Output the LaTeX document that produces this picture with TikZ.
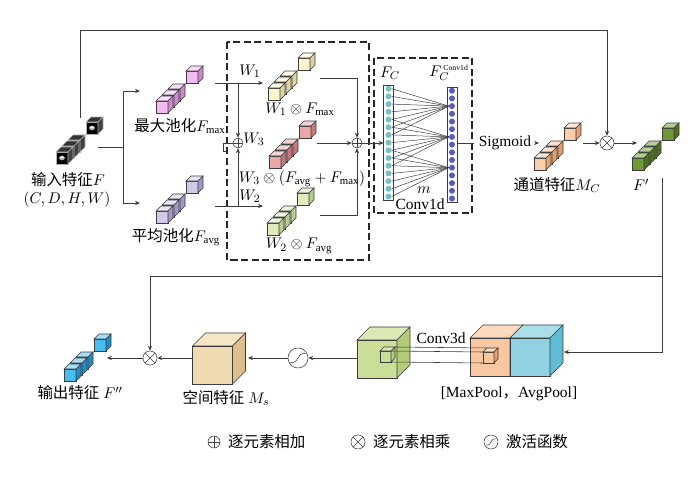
\documentclass[tikz,border=0pt]{standalone}
\usepackage{fontspec}
\setmainfont{Liberation Serif}
\newfontfamily\cjk{Noto Sans CJK SC}
\usepackage{amsmath}
\usetikzlibrary{arrows.meta,positioning}

\definecolor{wire}{RGB}{60,60,60}
\definecolor{maxfront}{RGB}{242,186,242}
\definecolor{maxside}{RGB}{205,135,205}
\definecolor{avgfront}{RGB}{210,200,232}
\definecolor{avgside}{RGB}{165,150,200}
\definecolor{wafront}{RGB}{252,246,205}
\definecolor{waside}{RGB}{222,212,160}
\definecolor{wcfront}{RGB}{232,168,168}
\definecolor{wcside}{RGB}{198,120,120}
\definecolor{wbfront}{RGB}{222,236,190}
\definecolor{wbside}{RGB}{182,204,145}
\definecolor{mcfront}{RGB}{250,206,168}
\definecolor{mcside}{RGB}{226,160,112}
\definecolor{fpfront}{RGB}{112,152,52}
\definecolor{fpside}{RGB}{78,112,30}
\definecolor{outfront}{RGB}{72,190,240}
\definecolor{outside}{RGB}{30,140,200}
\definecolor{msfront}{RGB}{240,218,178}
\definecolor{mstop}{RGB}{246,230,200}
\definecolor{msside}{RGB}{222,190,140}
\definecolor{safront}{RGB}{202,222,152}
\definecolor{satop}{RGB}{218,234,180}
\definecolor{saside}{RGB}{178,204,120}
\definecolor{mpfront}{RGB}{250,200,160}
\definecolor{mptop}{RGB}{252,218,190}
\definecolor{apfront}{RGB}{145,210,226}
\definecolor{aptop}{RGB}{170,222,235}
\definecolor{apside}{RGB}{95,188,212}
\definecolor{dotin}{RGB}{118,190,200}
\definecolor{dotout}{RGB}{88,88,200}

\newcommand*\cubesz{12}
\newcommand*\cubedp{5}
\newcommand*\bigdp{13}

% small cube: x, y (front bottom left), front, top, side
\newcommand\minicube[5]{%
  \draw[cubeline,fill=#3] (#1,#2) rectangle ++(\cubesz,-\cubesz);
  \draw[cubeline,fill=#4] (#1,{#2-\cubesz}) -- ++(\cubedp,-\cubedp) -- ++(\cubesz,0) -- ++(-\cubedp,\cubedp) -- cycle;
  \draw[cubeline,fill=#5] ({#1+\cubesz},#2) -- ++(\cubedp,-\cubedp) -- ++(0,-\cubesz) -- ++(-\cubedp,\cubedp) -- cycle;
}
% top and side faces of a big cube node: node, top, side
\newcommand\cubefaces[3]{%
  \draw[cubeline,fill=#2] (#1.north west) -- ++(\bigdp,-\bigdp) -- ([shift={(\bigdp,-\bigdp)}]#1.north east) -- (#1.north east) -- cycle;
  \draw[cubeline,fill=#3] (#1.north east) -- ++(\bigdp,-\bigdp) -- ([shift={(\bigdp,-\bigdp)}]#1.south east) -- (#1.south east) -- cycle;
}
\newcommand\sigcurve[1]{%
  \draw ([shift={(-0.75*#1,0.45*#1)}]path picture bounding box.center)
    .. controls ([shift={(0.25*#1,0.55*#1)}]path picture bounding box.center)
    and ([shift={(-0.25*#1,-0.55*#1)}]path picture bounding box.center)
    .. ([shift={(0.75*#1,-0.45*#1)}]path picture bounding box.center);
}

\tikzset{
    cubeline/.style = {draw=wire, line width=0.4pt},
    arr/.style      = {draw=wire, line width=0.5pt, -{Stealth[length=3.5pt,width=3pt]}},
    wireline/.style = {draw=wire, line width=0.5pt},
    dashbox/.style  = {draw=black!85, line width=1.1pt, dash pattern=on 5pt off 2.5pt},
    oplus/.style    = {draw=wire, circle, inner sep=0pt, minimum size={#1*0.05cm},
                       path picture={\draw (path picture bounding box.north) -- (path picture bounding box.south)
                                           (path picture bounding box.west) -- (path picture bounding box.east);}},
    otimes/.style   = {draw=wire, circle, inner sep=0pt, minimum size={#1*0.05cm},
                       path picture={\draw (path picture bounding box.north west) -- (path picture bounding box.south east)
                                           (path picture bounding box.north east) -- (path picture bounding box.south west);}},
    actcirc/.style  = {draw=wire, circle, inner sep=0pt, minimum size={#1*0.05cm},
                       path picture={\sigcurve{#1}}},
    bigcube/.style  = {draw=wire, line width=0.4pt, fill=#1, inner sep=0pt, outer sep=0pt,
                       minimum width=1cm, minimum height=0.95cm},
    bar/.style      = {draw=wire, fill=white, inner sep=0pt, minimum width=0.24cm, minimum height=2.875cm},
    indot/.style    = {circle, fill=dotin, inner sep=0pt, minimum size=0.15cm},
    outdot/.style   = {circle, fill=dotout, inner sep=0pt, minimum size=0.15cm},
    pics/cuberow/.style args={#1/#2}{code={
        \draw[densely dotted, wire] (22,-22) -- (30,-30);
        \minicube{30}{-30}{#1}{#1!50!white}{#2}
        \foreach \k in {2,1,0}{\minicube{6*\k}{-6*\k}{#1}{#1!50!white}{#2}}
    }},
    pics/scanrow/.style={code={
        \begin{scope}[cubeline/.style={draw=gray!60, line width=0.4pt}]
        \draw[densely dotted, wire] (22,-22) -- (30,-30);
        \foreach \p in {30,12,6,0}{
            \minicube{\p}{-\p}{black}{black!80}{black!75}
            \fill[gray!70] ({\p+6},{-\p-6}) ellipse (3 and 2.4);
            \fill[white] ({\p+6},{-\p-6.5}) ellipse (1.8 and 1.2);
        }
        \end{scope}
    }},
}

\begin{document}
\begin{tikzpicture}[x=0.025cm, y=-0.025cm, font=\fontsize{11}{13}\selectfont]
    \useasboundingbox (0,0) rectangle (700,480);

    % input feature and the two pooled copies
    \pic at (56,164) {scanrow};
    \pic at (156,113) {cuberow=maxfront/maxside};
    \pic at (156,223) {cuberow=avgfront/avgside};
    \node (inlab)  at (68,180)  {{\cjk 输入特征}$F$};
    \node (inshape) at (67,200) {$(C,D,H,W)$};
    \node (maxlab) at (180,126) {{\cjk 最大池化}$F_{\max}$};
    \node (avglab) at (176,237) {{\cjk 平均池化}$F_{\mathrm{avg}}$};

    \coordinate (inout) at (98,147);
    \coordinate (split) at (123,147);
    \coordinate (maxin) at (140,91);
    \coordinate (avgin) at (140,203);
    \draw[wireline] (inout) -- (split);
    \draw[arr] (split) |- (maxin);
    \draw[arr] (split) |- (avgin);

    % weighting block
    \draw[dashbox] (227,42) rectangle (369,260);
    \pic at (268,100) {cuberow=wafront/waside};
    \pic at (269,168) {cuberow=wcfront/wcside};
    \pic at (267,235) {cuberow=wbfront/wbside};
    \node (walab) at (300,109) {$W_1\otimes F_{\max}$};
    \node (wclab) at (302,179) {$W_3\otimes(F_{\mathrm{avg}}+F_{\max})$};
    \node (wblab) at (299,246) {$W_2\otimes F_{\mathrm{avg}}$};
    \node (wa) at (250,71)  {$W_1$};
    \node (wc) at (254,139) {$W_3$};
    \node (wb) at (250,196) {$W_2$};

    \node[oplus=5] (lplus) at (238,143) {};
    \node[oplus=5] (rplus) at (357,143) {};
    \coordinate (maxout) at (215,83);
    \coordinate (waend)  at (263,83);
    \coordinate (avgout) at (215,206);
    \coordinate (wbend)  at (263,206);
    \draw[arr] (maxout) -- (waend);
    \draw[arr] (avgout) -- (wbend);
    \draw[arr] (lplus |- maxout) -- (lplus);
    \draw[arr] (lplus |- avgout) -- (lplus);
    \draw[wireline] (lplus.west) -- ++(-9,0) -- ++(0,8) -- ++(3,0);

    \coordinate (waout) at (320,78);
    \coordinate (wcout) at (317,143);
    \coordinate (wbout) at (320,215);
    \draw[arr] (waout) -| (rplus);
    \draw[arr] (wcout) -- (rplus);
    \draw[arr] (wbout) -| (rplus);

    % Conv1d block
    \draw[dashbox] (374,58) rectangle (472,213);
    \node[bar] (fcbar)  at (388.5,142.5) {};
    \node[bar] (fcobar) at (452,144.5) {};
    \foreach \i in {1,...,15} {
        \node[indot]  (fc\i)  at (388.5,{81+7.7*\i}) {};
        \node[outdot] (fco\i) at (452,{83+7.7*\i}) {};
    }
    \foreach \o/\a/\b in {3/1/7,7/5/11,11/9/15}
        \foreach \j in {\a,...,\b}
            \draw[wire, line width=0.35pt] (fc\j.east) -- (fco\o.west);
    \node (fclab)  at (390,73) {$F_C$};
    \node[inner sep=1pt] (fcolab) at (449,73) {$F_C^{\,\scriptscriptstyle\mathrm{Conv1d}}$};
    \node (mlab)   at (424,190) {$m$};
    \node (convone) at (420,204) {Conv1d};
    \draw[arr] (rplus) -- (rplus -| fcbar.west);

    % channel attention
    \node (sig) at (505,143) {Sigmoid};
    \draw[wireline] (fcobar.east |- sig.west) -- (sig.west);
    \coordinate (mcin) at (539,143);
    \draw[arr] (sig.east) -- (mcin);
    \pic at (534,170) {cuberow=mcfront/mcside};
    \node (mclab) at (557,185) {{\cjk 通道特征}$M_C$};

    \node[otimes=7] (mula) at (607,143) {};
    \coordinate (mcout) at (583,143);
    \coordinate (fpin)  at (637,143);
    \draw[arr] (mcout) -- (mula);
    \draw[arr] (mula) -- (fpin);
    \pic at (632,170) {cuberow=fpfront/fpside};
    \node (fplab) at (641,185) {$F'$};

    % skip connection over the top
    \coordinate (skip) at (80,118);
    \coordinate (topleft) at (80,30);
    \draw[arr] (skip) -- (topleft) -| (mula);

    % spatial attention
    \node[bigcube=safront] (sa) at (377,359) {};
    \cubefaces{sa}{satop}{saside}
    \node[bigcube=mpfront] (mp) at (490,357) {};
    \cubefaces{mp}{mptop}{mpfront}
    \node[bigcube=apfront] (ap) at (530,357) {};
    \cubefaces{ap}{aptop}{apside}
    \begin{scope}[cubeline/.style={draw=wire, line width=0.4pt}]
        \renewcommand*\cubesz{11}\renewcommand*\cubedp{4}
        \minicube{380}{362}{safront}{satop}{saside}
        \minicube{483}{363}{mpfront}{mptop}{mcside}
    \end{scope}
    \draw[wire, line width=0.4pt] (395,347) -- (487,348);
    \draw[wire, line width=0.4pt] (391,351) -- (483,352);
    \draw[wire, line width=0.4pt] (391,362) -- (483,363);
    \node (convthree) at (441,338) {Conv3d};
    \node (catlab) at (509,394) {[MaxPool{\cjk ，}AvgPool]};

    \coordinate (fpout) at (662,178);
    \coordinate (fpsplit) at (662,276);
    \coordinate (catin) at (564,352);
    \draw[arr] (fpout) |- (catin);

    \node[actcirc=10] (act) at (298,358) {};
    \draw[arr] (sa.west |- act) -- (act);
    \node[bigcube=msfront] (ms) at (212.5,365) {};
    \cubefaces{ms}{mstop}{msside}
    \node (mslab) at (226,398) {{\cjk 空间特征} $M_s$};
    \coordinate (msin) at (248,358);
    \draw[arr] (act) -- (msin);

    \node[otimes=7] (mulb) at (150,358) {};
    \draw[arr] (ms.west |- mulb) -- (mulb);
    \draw[arr] (fpsplit) -| (mulb);
    \coordinate (outin) at (107,358);
    \draw[arr] (mulb) -- (outin);
    \pic at (64,381) {cuberow=outfront/outside};
    \node (outlab) at (80,393) {{\cjk 输出特征} $F''$};

    % legend
    \node[oplus=6]   (lgadd) at (214,442) {};
    \node[right=2pt of lgadd] (lgaddt) {\cjk 逐元素相加};
    \node[otimes=7]  (lgmul) at (358,442) {};
    \node[right=2pt of lgmul] (lgmult) {\cjk 逐元素相乘};
    \node[actcirc=7] (lgact) at (491,442) {};
    \node[right=2pt of lgact] (lgactt) {\cjk 激活函数};
\end{tikzpicture}
\end{document}
